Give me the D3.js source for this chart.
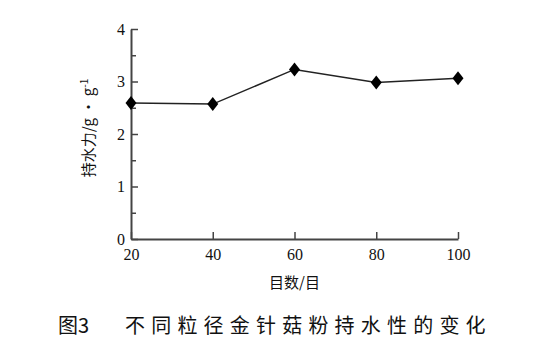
<!DOCTYPE html>
<html>
<head>
<meta charset="utf-8">
<script src="https://cdn.jsdelivr.net/npm/d3@7"></script>
<style>
  body { margin: 0; background: #fff; }
  svg { display: block; }
  .num { font-family: "Liberation Serif", "DejaVu Serif", serif; }
</style>
</head>
<body>
<div id="chart"></div>
<script>
// Data
const meshSizes = [20, 40, 60, 80, 100];
const waterHolding = [2.59, 2.57, 3.23, 2.98, 3.06];
const yTicks = [0, 1, 2, 3, 4];
const yMinorTicks = [0.5, 1.5, 2.5, 3.5];

const width = 544, height = 354;
const margin = { top: 29, right: 86, bottom: 115, left: 131 };
const innerW = width - margin.left - margin.right;
const innerH = height - margin.top - margin.bottom;

const svg = d3.select("#chart").append("svg")
    .attr("width", width)
    .attr("height", height);

const plot = svg.append("g")
    .attr("transform", `translate(${margin.left},${margin.top})`);

const xScale = d3.scaleLinear().domain([20, 100]).range([0, innerW]);
const yScale = d3.scaleLinear().domain([0, 4]).range([innerH, 0]);

const axisColor = "#444";
const cjk = "'Noto Sans CJK SC', sans-serif";

// X axis (ticks pointing inward)
const xAxis = plot.append("g")
    .call(d3.axisBottom(xScale).tickValues(meshSizes).tickFormat(d3.format("d"))
        .tickSizeInner(-7).tickSizeOuter(0).tickPadding(10))
    .attr("transform", `translate(0,${innerH})`)
    .attr("font-family", null);
xAxis.select(".domain").attr("stroke", axisColor).attr("stroke-width", 2);
xAxis.selectAll(".tick line").attr("stroke", axisColor).attr("stroke-width", 1.5);
xAxis.selectAll(".tick text")
    .attr("class", "num").attr("font-size", 16).attr("fill", "#111");

// Y axis (ticks pointing inward)
const yAxis = plot.append("g")
    .call(d3.axisLeft(yScale).tickValues(yTicks).tickFormat(d3.format("d"))
        .tickSizeInner(-7).tickSizeOuter(0).tickPadding(6))
    .attr("font-family", null);
yAxis.select(".domain").attr("stroke", axisColor).attr("stroke-width", 2);
yAxis.selectAll(".tick line").attr("stroke", axisColor).attr("stroke-width", 1.5);
yAxis.selectAll(".tick text")
    .attr("class", "num").attr("font-size", 16).attr("fill", "#111");

// Minor y ticks
plot.append("g")
    .call(d3.axisLeft(yScale).tickValues(yMinorTicks).tickSizeInner(-5).tickSizeOuter(0).tickFormat(""))
    .call(g => g.select(".domain").remove())
    .selectAll(".tick line").attr("stroke", axisColor).attr("stroke-width", 1.5);

// Line
const line = d3.line()
    .x((d, i) => xScale(meshSizes[i]))
    .y(d => yScale(d));

plot.append("path")
    .datum(waterHolding)
    .attr("fill", "none")
    .attr("stroke", "#222")
    .attr("stroke-width", 1.5)
    .attr("d", line);

// Diamond markers
plot.selectAll(".marker")
    .data(waterHolding)
    .enter().append("path")
    .attr("class", "marker")
    .attr("transform", (d, i) => `translate(${xScale(meshSizes[i])},${yScale(d)})`)
    .attr("d", "M0,-7L5.5,0L0,7L-5.5,0Z")
    .attr("fill", "#000");

// X axis title
svg.append("text")
    .attr("x", margin.left + xScale(60))
    .attr("y", 288)
    .attr("text-anchor", "middle")
    .attr("font-family", cjk)
    .attr("font-size", 15)
    .attr("fill", "#111")
    .text("目数/目");

// Y axis title
const yTitle = svg.append("text")
    .attr("transform", `translate(94,${margin.top + 99}) rotate(-90)`)
    .attr("text-anchor", "middle")
    .attr("font-family", cjk)
    .attr("font-size", 15)
    .attr("fill", "#111");
yTitle.append("tspan").text("持水力/g · g");
yTitle.append("tspan").attr("dy", -6).attr("font-size", 10).text("-1");

// Caption
svg.append("text")
    .attr("x", 58)
    .attr("y", 333)
    .attr("font-family", cjk)
    .attr("font-size", 20)
    .attr("fill", "#111")
    .text("图3");

svg.append("text")
    .attr("x", 125)
    .attr("y", 333)
    .attr("font-family", cjk)
    .attr("font-size", 20)
    .attr("letter-spacing", 6.2)
    .attr("fill", "#111")
    .text("不同粒径金针菇粉持水性的变化");
</script>
</body>
</html>
